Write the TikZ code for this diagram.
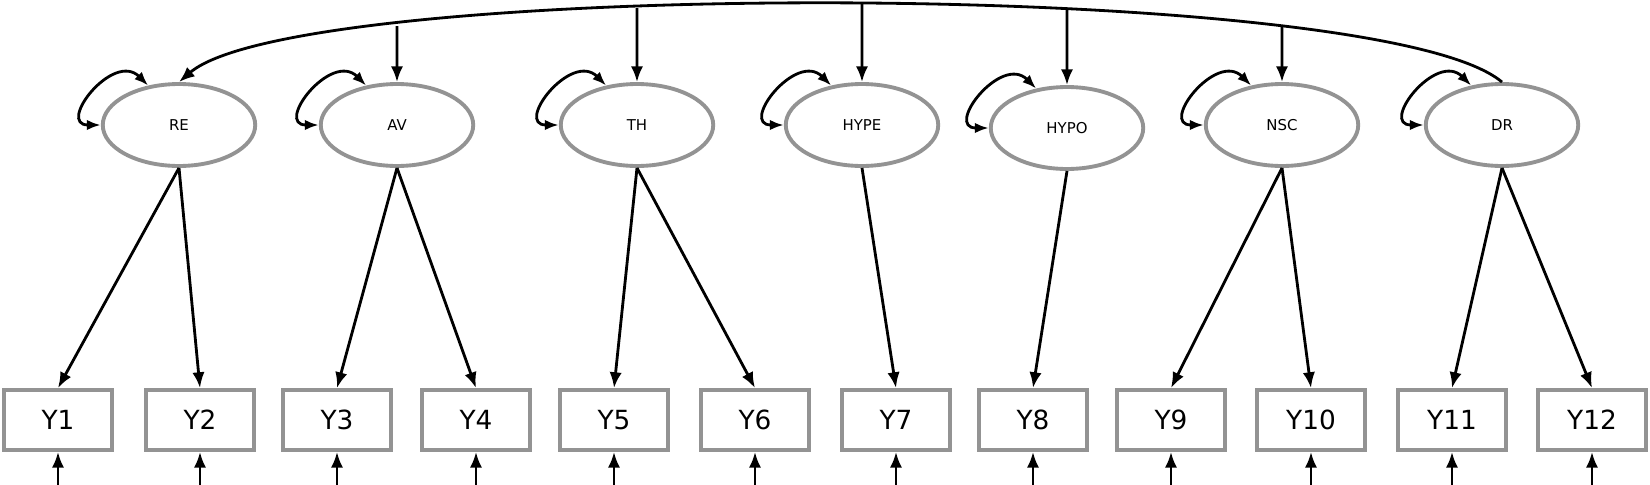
\documentclass[tikz,border=0pt]{standalone}
\usepackage{fontspec}
\setmainfont{DejaVu Sans}
\usetikzlibrary{arrows.meta,positioning,intersections,shapes.geometric}

\begin{document}
\begin{tikzpicture}[
    x=0.02cm, y=-0.02cm,
    latent/.style={ellipse, draw=gray!85, line width=2.2pt, fill=white, minimum width=3.05cm, minimum height=1.64cm, inner sep=0pt, font=\fontsize{8.5}{10}\selectfont},
    manifest/.style={rectangle, draw=gray!85, line width=2.2pt, minimum width=2.15cm, minimum height=1.2cm, inner sep=0pt, font=\fontsize{15}{18}\selectfont},
    load/.style={-{Latex[length=9pt,width=7pt]}, line width=1.6pt},
    variance/.style={{Latex[length=8pt,width=6pt]}-{Latex[length=8pt,width=6pt]}, line width=1.6pt}
  ]
  \useasboundingbox (0,0) rectangle (1650,484);

  % Latent factors
  \node[latent] (RE) at (179,125) {RE};
  \node[latent] (AV) at (397,125) {AV};
  \node[latent] (TH) at (637,125) {TH};
  \node[latent] (HYPE) at (862,125) {HYPE};
  \node[latent] (HYPO) at (1067,128) {HYPO};
  \node[latent] (NSC) at (1282,125) {NSC};
  \node[latent] (DR) at (1502,125) {DR};

  % Indicators
  \foreach \i/\x in {1/58,2/200,3/337,4/476,5/614,6/755,7/896,8/1033,9/1171,10/1311,11/1452,12/1592}
    \node[manifest] (Y\i) at (\x,420) {Y\i};

  % Error terms
  \foreach \i in {1,...,12} {
    \coordinate (e\i) at ([yshift=-0.66cm]Y\i.south);
    \draw[load] (e\i) -- (Y\i.south);
  }

  % Factor loadings
  \draw[load] (RE.south) -- (Y1.north);
  \draw[load] (RE.south) -- (Y2.north);
  \draw[load] (AV.south) -- (Y3.north);
  \draw[load] (AV.south) -- (Y4.north);
  \draw[load] (TH.south) -- (Y5.north);
  \draw[load] (TH.south) -- (Y6.north);
  \draw[load] (HYPE.south) -- (Y7.north);
  \draw[load] (HYPO.south) -- (Y8.north);
  \draw[load] (NSC.south) -- (Y9.north);
  \draw[load] (NSC.south) -- (Y10.north);
  \draw[load] (DR.south) -- (Y11.north);
  \draw[load] (DR.south) -- (Y12.north);

  % Variances
  \foreach \f in {RE,AV,TH,HYPE,HYPO,NSC,DR}
    \draw[variance] (\f.west) .. controls +(-45,0) and +(-35,-35) .. (\f.128);

  % Covariance curve
  \draw[load, name path=cov] (DR.north) .. controls (1380,-22) and (300,-22) .. (RE.north);
  \foreach \f in {AV,TH,HYPE,HYPO,NSC} {
    \path[name path=v\f] (\f.north) -- ++(0,-200);
    \draw[load, name intersections={of=cov and v\f}] (intersection-1) -- (\f.north);
  }
\end{tikzpicture}
\end{document}
